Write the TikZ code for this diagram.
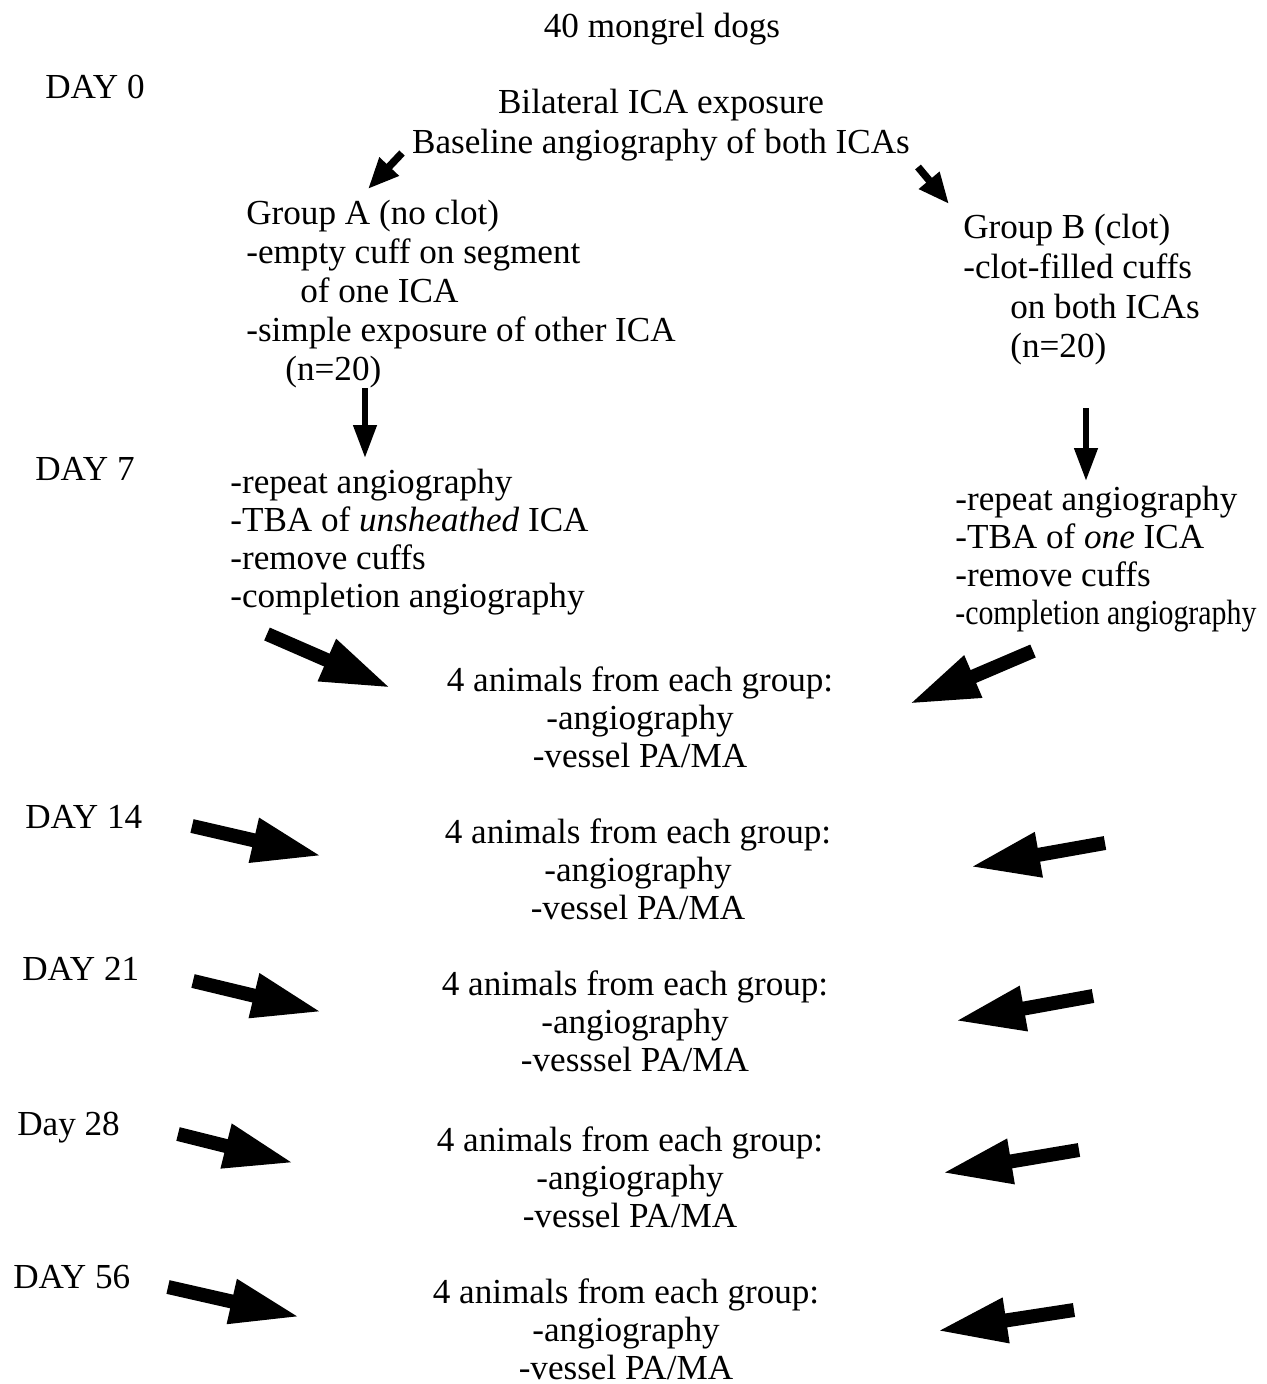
\documentclass[tikz,border=0pt]{standalone}
\usepackage{fontspec}
\setmainfont{Liberation Serif}
\usepackage{graphicx}
\usetikzlibrary{arrows.meta}

\begin{document}
\begin{tikzpicture}[
    x=0.02cm, y=-0.02cm,
    every node/.style={inner sep=0pt, font=\fontsize{20}{21.6}\selectfont},
    day/.style={anchor=base west},
    txt/.style={anchor=north west, align=left},
    grp/.style={anchor=north, align=center},
    thin_arrow/.style={-{Triangle[length=0.62cm, width=0.5cm]}, line width=0.15cm},
    down_arrow/.style={-{Triangle[length=0.66cm, width=0.45cm]}, line width=0.12cm},
    big_arrow/.style={-{Triangle[length=1.4cm, width=0.84cm]}, line width=0.28cm}
]
    \useasboundingbox (0,0) rectangle (1267,1384);

    % Header
    \node[anchor=base] (dogs) at (662,37) {40 mongrel dogs};
    \node[day] (day0) at (45,98) {DAY 0};
    \node[grp] (expo) at (661,89) {Bilateral ICA exposure\\[1pt]Baseline angiography of both ICAs};

    % Groups
    \node[txt] (grpA) at (246,200) {Group A (no clot)\\[0.5pt]-empty cuff on segment\\[0.5pt]\hspace*{1.08cm}of one ICA\\[0.5pt]-simple exposure of other ICA\\[0.5pt]\hspace*{0.78cm}(n=20)};
    \node[txt] (grpB) at (963,214) {Group B (clot)\\[1pt]-clot-filled cuffs\\[1pt]\hspace*{0.94cm}on both ICAs\\[1pt]\hspace*{0.94cm}(n=20)};

    \coordinate (sA) at (402,153);
    \coordinate (eA) at (368,189);
    \coordinate (sB) at (918,167);
    \coordinate (eB) at (949,204);
    \draw[thin_arrow] (sA) -- (eA);
    \draw[thin_arrow] (sB) -- (eB);

    % Day 7
    \coordinate (dA1) at (365,388);
    \coordinate (dA2) at (365,458);
    \coordinate (dB1) at (1086,408);
    \coordinate (dB2) at (1086,481);
    \draw[down_arrow] (dA1) -- (dA2);
    \draw[down_arrow] (dB1) -- (dB2);

    \node[day] (day7) at (35,480) {DAY 7};
    \node[txt] (tbaA) at (230,469) {-repeat angiography\\-TBA of \textit{unsheathed} ICA\\-remove cuffs\\-completion angiography};
    \node[txt] (tbaB) at (955,486) {-repeat angiography\\-TBA of \textit{one} ICA\\-remove cuffs\\\scalebox{0.85}[1]{-completion angiography}};

    % Sampling rows
    \foreach \d/\lab/\lx/\ly/\bx/\by/\ves in {
        7//0/0/640/666/vessel,
        14/DAY 14/25/828/638/818/vessel,
        21/DAY 21/22/980/635/970/vesssel,
        28/Day 28/17/1135/630/1126/vessel,
        56/DAY 56/13/1288/626/1278/vessel}{
        \ifnum\d>7
            \node[day] (day\d) at (\lx,\ly) {\lab};
        \fi
        \node[grp] (blk\d) at (\bx,\by) {4 animals from each group:\\-angiography\\-\ves{} PA/MA};
    }

    % Arrows into each row
    \coordinate (l7s) at (267,634);   \coordinate (l7e) at (391,688);
    \coordinate (r7s) at (1033,651);  \coordinate (r7e) at (909,704);
    \coordinate (l14s) at (192,826);  \coordinate (l14e) at (322,856);
    \coordinate (r14s) at (1105,843); \coordinate (r14e) at (970,867);
    \coordinate (l21s) at (193,981);  \coordinate (l21e) at (322,1012);
    \coordinate (r21s) at (1093,996); \coordinate (r21e) at (955,1021);
    \coordinate (l28s) at (178,1134); \coordinate (l28e) at (294,1163);
    \coordinate (r28s) at (1079,1150);\coordinate (r28e) at (942,1173);
    \coordinate (l56s) at (168,1287); \coordinate (l56e) at (300,1317);
    \coordinate (r56s) at (1074,1310);\coordinate (r56e) at (937,1331);
    \foreach \d in {7,14,21,28,56}{
        \draw[big_arrow] (l\d s) -- (l\d e);
        \draw[big_arrow] (r\d s) -- (r\d e);
    }
\end{tikzpicture}
\end{document}
